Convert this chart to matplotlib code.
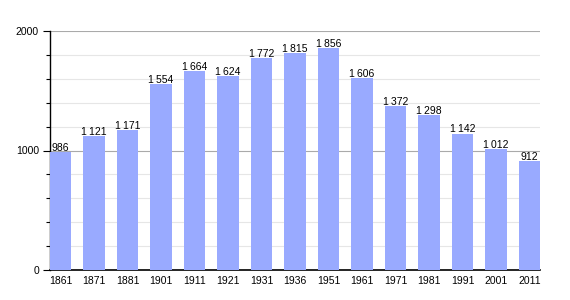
import matplotlib.pyplot as plt
from matplotlib.ticker import MultipleLocator

plt.rcParams['font.family'] = ['Liberation Sans', 'DejaVu Sans']

lata = ['1861', '1871', '1881', '1901', '1911', '1921', '1931', '1936',
        '1951', '1961', '1971', '1981', '1991', '2001', '2011']
ludnosc = [986, 1121, 1171, 1554, 1664, 1624, 1772, 1815,
           1856, 1606, 1372, 1298, 1142, 1012, 912]

def fmt(v):
    s = f'{v:,}'.replace(',', '\u2009')
    return s

fig = plt.figure(figsize=(5.7, 3.0), dpi=100)
ax = fig.add_axes([50/570, 0.1, 490/570, 239/300])

szer = 0.63
x = list(range(len(lata)))
ax.bar(x, ludnosc, width=szer, align='edge', color='#99aaff', zorder=3)

for xi, v in zip(x, ludnosc):
    ax.text(xi + szer/2, v - 6, fmt(v), ha='center', va='bottom',
            fontsize=7.5, color='black', zorder=4)

ax.set_xlim(0, len(lata) - 1 + szer)
ax.set_ylim(0, 2000)
ax.set_xticks([xi + szer/2 for xi in x])
ax.set_xticklabels(lata, fontsize=7.5)
ax.tick_params(axis='x', length=0, pad=4)

ax.yaxis.set_major_locator(MultipleLocator(1000))
ax.yaxis.set_minor_locator(MultipleLocator(200))
ax.set_yticks([0, 1000, 2000])
ax.set_yticklabels(['0', '1000', '2000'], fontsize=7.5)
ax.tick_params(axis='y', which='major', length=5, width=0.8, pad=3)
ax.tick_params(axis='y', which='minor', length=3, width=0.8)

ax.grid(axis='y', which='major', color='#aaaaaa', linewidth=0.8, zorder=0)
ax.grid(axis='y', which='minor', color='#e6e6e6', linewidth=0.8, zorder=0)

for s in ['top', 'right']:
    ax.spines[s].set_visible(False)
ax.spines['left'].set_linewidth(1.0)
ax.spines['bottom'].set_linewidth(1.2)

fig.savefig('out.png', dpi=100)
